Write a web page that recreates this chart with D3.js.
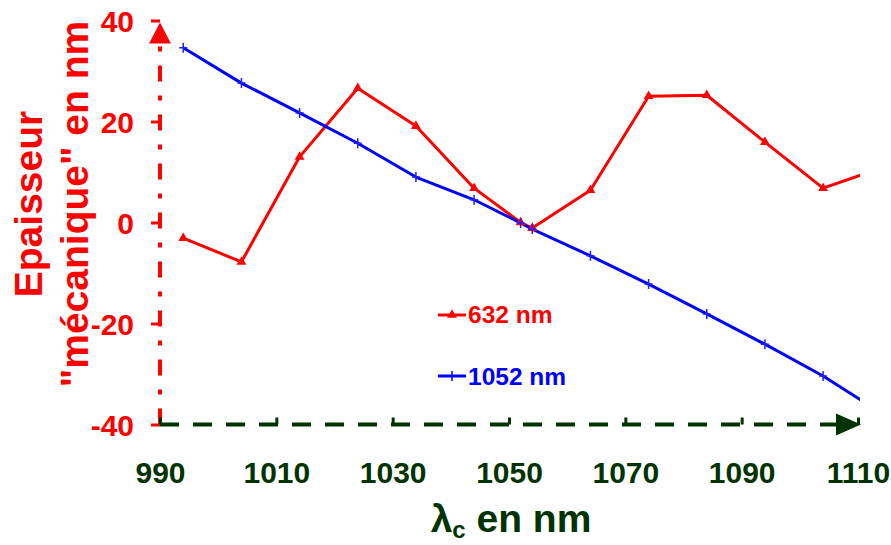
<!DOCTYPE html>
<html>
<head>
<meta charset="utf-8">
<script src="https://cdn.jsdelivr.net/npm/d3@7"></script>
<style>
  html, body { margin: 0; padding: 0; background: #fff; }
  svg { display: block; font-family: Arial, "Liberation Sans", sans-serif; font-weight: bold; }
</style>
</head>
<body>
<svg id="chart" width="891" height="545"></svg>
<script>
// ---- data ----
const wavelengths = [994, 1004, 1014, 1024, 1034, 1044, 1052, 1054, 1064, 1074, 1084, 1094, 1104, 1114];
const series632  = [-3.1, -7.8, 13.0, 26.6, 19.1, 6.8, 0.0, -1.1, 6.4, 25.0, 25.2, 15.9, 6.8, 10.8];
const series1052 = [34.6, 27.6, 21.7, 15.7, 9.0, 4.5, -0.1, -1.3, -6.6, -12.2, -18.1, -24.1, -30.4, -37.7];
const seriesNames = ["632 nm", "1052 nm"];
const xTicks = [990, 1010, 1030, 1050, 1070, 1090, 1110];
const yTicks = [-40, -20, 0, 20, 40];
const xDomain = [990, 1110];
const yDomain = [-40, 40];

// ---- layout ----
const RED = "#ff0000", BLUE = "#0000ff", GREEN = "#003300";
const svg = d3.select("#chart");
const x = d3.scaleLinear().domain(xDomain).range([160, 858]);
const y = d3.scaleLinear().domain(yDomain).range([424.5, 20.5]);

// clip for plot area
svg.append("defs").append("clipPath").attr("id", "plotclip")
  .append("rect")
  .attr("x", x(xDomain[0])).attr("y", 0)
  .attr("width", x(xDomain[1]) - x(xDomain[0]) + 2)
  .attr("height", 545);

// ---- Y axis (red, dash-dot with arrow) ----
const yAxisG = svg.append("g");
yAxisG.append("line")
  .attr("x1", x(990)).attr("x2", x(990))
  .attr("y1", y(-40)).attr("y2", y(40) + 20)
  .attr("stroke", RED).attr("stroke-width", 4)
  .attr("stroke-dasharray", "16,14,5,14");
yAxisG.append("path")
  .attr("d", `M${x(990)},${y(40) + 2} L${x(990) - 11},${y(40) + 23} L${x(990) + 11},${y(40) + 23} Z`)
  .attr("fill", RED);
const yAxis = d3.axisLeft(y).tickValues(yTicks).tickSize(9).tickPadding(17).tickFormat(d3.format("d"));
const yAx = svg.append("g").attr("transform", `translate(${x(990)},0)`).call(yAxis);
yAx.select(".domain").remove();
yAx.selectAll(".tick line").attr("stroke", RED).attr("stroke-width", 3);
yAx.selectAll(".tick text")
  .attr("fill", RED).attr("font-size", 30).attr("font-weight", "bold")
  .attr("font-family", "Arial, 'Liberation Sans', sans-serif")
  .attr("dy", "0.35em").text(d => d < 0 ? "-" + Math.abs(d) : d);

// ---- X axis (dark green, dashed with arrow) ----
const xAxisG = svg.append("g");
xAxisG.append("line")
  .attr("x1", x(990)).attr("x2", x(1110) - 20)
  .attr("y1", y(-40)).attr("y2", y(-40))
  .attr("stroke", GREEN).attr("stroke-width", 4)
  .attr("stroke-dasharray", "19,14");
xAxisG.append("path")
  .attr("d", `M${x(1110) + 3},${y(-40)} L${x(1110) - 22},${y(-40) - 11} L${x(1110) - 22},${y(-40) + 11} Z`)
  .attr("fill", GREEN);
const xAxis = d3.axisTop(x).tickValues(xTicks).tickSize(7).tickFormat(d3.format("d"));
const xAx = svg.append("g").attr("transform", `translate(0,${y(-40)})`).call(xAxis);
xAx.select(".domain").remove();
xAx.selectAll(".tick line").attr("stroke", GREEN).attr("stroke-width", 3);
xAx.selectAll(".tick text")
  .attr("fill", GREEN).attr("font-size", 30).attr("font-weight", "bold")
  .attr("font-family", "Arial, 'Liberation Sans', sans-serif")
  .attr("y", 58).attr("dy", 0);

// ---- lines ----
const data632 = wavelengths.map((w, i) => ({ w, v: series632[i] }));
const data1052 = wavelengths.map((w, i) => ({ w, v: series1052[i] }));
const line = d3.line().x(d => x(d.w)).y(d => y(d.v));
const plot = svg.append("g").attr("clip-path", "url(#plotclip)");

plot.append("path").datum(data632)
  .attr("d", line).attr("fill", "none").attr("stroke", RED).attr("stroke-width", 3)
  .attr("stroke-linejoin", "round");
plot.append("path").datum(data1052)
  .attr("d", line).attr("fill", "none").attr("stroke", BLUE).attr("stroke-width", 3)
  .attr("stroke-linejoin", "round");

const tri = d3.symbol().type(d3.symbolTriangle).size(42);
plot.selectAll(".m632").data(data632).join("path")
  .attr("class", "m632")
  .attr("transform", d => `translate(${x(d.w)},${y(d.v)})`)
  .attr("d", tri).attr("fill", RED);

const crossPath = "M-4,0H4M0,-5V5";
plot.selectAll(".m1052").data(data1052).join("path")
  .attr("class", "m1052")
  .attr("transform", d => `translate(${x(d.w)},${y(d.v)})`)
  .attr("d", crossPath).attr("stroke", "#2020ff").attr("stroke-width", 1.5).attr("fill", "none");

// ---- legend ----
const legend = svg.append("g");
const legendRows = [
  { name: seriesNames[0], color: RED, ly: 315, ty: 323, marker: "tri" },
  { name: seriesNames[1], color: BLUE, ly: 376, ty: 385, marker: "cross" }
];
legendRows.forEach(r => {
  legend.append("line").attr("x1", 438).attr("x2", 466).attr("y1", r.ly).attr("y2", r.ly)
    .attr("stroke", r.color).attr("stroke-width", 3);
  if (r.marker === "tri") {
    legend.append("path").attr("transform", `translate(452,${r.ly})`).attr("d", tri).attr("fill", r.color);
  } else {
    legend.append("path").attr("transform", `translate(452,${r.ly})`).attr("d", crossPath)
      .attr("stroke", r.color).attr("stroke-width", 1.5);
  }
  legend.append("text").attr("x", 468).attr("y", r.ty)
    .attr("fill", r.color).attr("font-size", 24.5).attr("font-weight", "bold")
    .text(r.name);
});

// ---- axis titles ----
const xt = svg.append("text").attr("x", 511).attr("y", 532)
  .attr("text-anchor", "middle").attr("fill", GREEN).attr("font-size", 39).attr("font-weight", "bold");
xt.append("tspan").text("λ");
xt.append("tspan").attr("font-size", 24).attr("dy", 6).text("c");
xt.append("tspan").attr("dy", -6).text(" en nm");

const yt = svg.append("g").attr("transform", "translate(42,204) rotate(-90)");
yt.append("text").attr("x", 0).attr("y", 0).attr("text-anchor", "middle")
  .attr("fill", RED).attr("font-size", 39).attr("font-weight", "bold").text("Epaisseur");
yt.append("text").attr("x", 0).attr("y", 46).attr("text-anchor", "middle")
  .attr("fill", RED).attr("font-size", 39).attr("font-weight", "bold").text("\"mécanique\" en nm");
</script>
</body>
</html>
